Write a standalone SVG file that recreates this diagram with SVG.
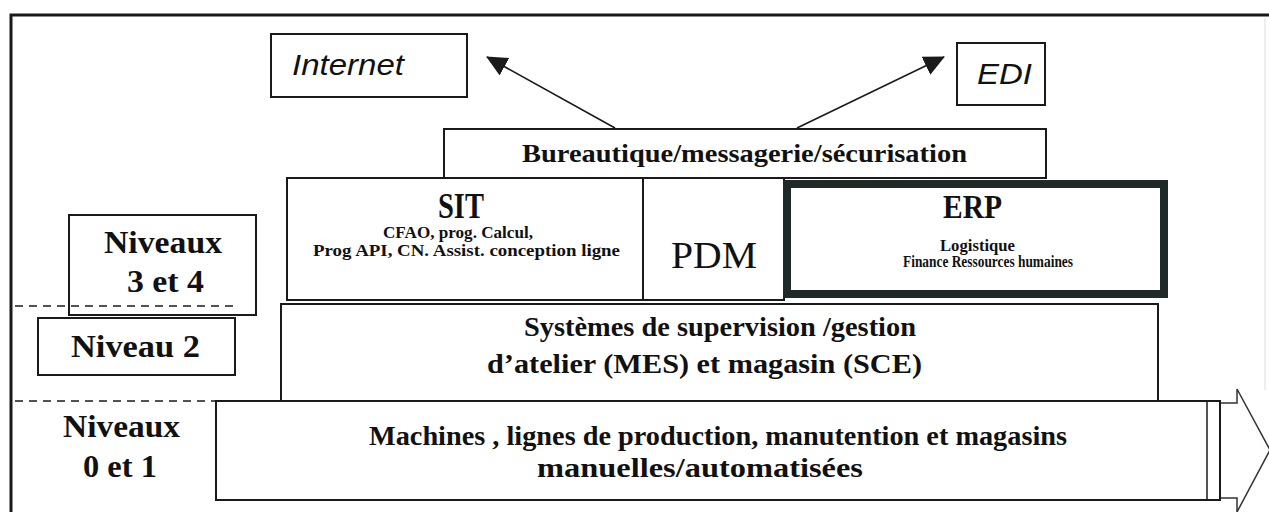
<svg xmlns="http://www.w3.org/2000/svg" width="1269" height="512" viewBox="0 0 1269 512">
<defs>
<style>
.box{fill:#fff;stroke:#1a1a1a;stroke-width:2}
.thick{fill:#fff;stroke:#1f2a28;stroke-width:8}
.frame{fill:none;stroke:#1a1a1a;stroke-width:3}
.dash{fill:none;stroke:#1a1a1a;stroke-width:1.5;stroke-dasharray:8,6}
.conn{fill:none;stroke:#1a1a1a;stroke-width:1.6}
.ital{font-family:"Liberation Sans",Arial,sans-serif;font-style:italic;fill:#111}
.sb{font-family:"Liberation Serif","Times New Roman",serif;font-weight:bold;fill:#111}
.sr{font-family:"Liberation Serif","Times New Roman",serif;fill:#111}
.mid{text-anchor:middle}
</style>
<marker id="ah" markerUnits="userSpaceOnUse" markerWidth="22" markerHeight="20" refX="20" refY="10" orient="auto">
<path d="M0,0 L21,10 L0,20 z" fill="#1a1a1a"/>
</marker>
</defs>
<rect x="0" y="0" width="1269" height="512" fill="#fff"/>
<path class="frame" d="M11,512 L11,15 L1269,15"/>
<line x1="1265" y1="18" x2="1265" y2="390" stroke="#ddd" stroke-width="1"/>

<g id="connectors">
<line class="conn" x1="615" y1="128" x2="487" y2="57" marker-end="url(#ah)"/>
<line class="conn" x1="797" y1="128" x2="944" y2="57" marker-end="url(#ah)"/>
</g>

<g id="internet">
<rect class="box" x="271" y="34" width="196" height="63"/>
<text class="ital" x="292" y="75" font-size="30" textLength="112" lengthAdjust="spacingAndGlyphs">Internet</text>
</g>
<g id="edi">
<rect class="box" x="957" y="43" width="88" height="62"/>
<text class="ital" x="977" y="84" font-size="30" textLength="55" lengthAdjust="spacingAndGlyphs">EDI</text>
</g>
<g id="bureautique">
<rect class="box" x="444" y="129" width="602" height="49"/>
<text class="sb" x="522" y="162" font-size="26" textLength="445" lengthAdjust="spacingAndGlyphs">Bureautique/messagerie/sécurisation</text>
</g>
<g id="sit">
<rect class="box" x="287" y="178" width="356" height="122"/>
<text class="sb" x="438" y="218" font-size="35" textLength="46" lengthAdjust="spacingAndGlyphs">SIT</text>
<text class="sb" x="383" y="238" font-size="17" textLength="150" lengthAdjust="spacingAndGlyphs">CFAO, prog. Calcul,</text>
<text class="sb" x="313" y="256" font-size="17" textLength="307" lengthAdjust="spacingAndGlyphs">Prog API, CN. Assist. conception ligne</text>
</g>
<g id="pdm">
<rect class="box" x="643" y="178" width="141" height="122"/>
<text class="sr" x="671" y="268" font-size="37" textLength="86" lengthAdjust="spacingAndGlyphs">PDM</text>
</g>
<g id="erp">
<rect class="thick" x="787" y="184" width="377" height="110"/>
<text class="sb" x="943" y="218" font-size="34" textLength="59" lengthAdjust="spacingAndGlyphs">ERP</text>
<text class="sb" x="940" y="251" font-size="16" textLength="75" lengthAdjust="spacingAndGlyphs">Logistique</text>
<text class="sb" x="903" y="267" font-size="16" textLength="170" lengthAdjust="spacingAndGlyphs">Finance Ressources humaines</text>
</g>
<g id="niveaux34">
<rect class="box" x="69" y="215" width="187" height="100"/>
<text class="sb" x="104" y="253" font-size="31" textLength="118" lengthAdjust="spacingAndGlyphs">Niveaux</text>
<text class="sb" x="127" y="292" font-size="31" textLength="77" lengthAdjust="spacingAndGlyphs">3 et 4</text>
</g>
<line class="dash" x1="15" y1="306" x2="233" y2="306"/>
<g id="niveau2">
<rect class="box" x="38" y="318" width="197" height="57"/>
<text class="sb" x="71" y="357" font-size="31" textLength="129" lengthAdjust="spacingAndGlyphs">Niveau 2</text>
</g>
<g id="mes">
<rect class="box" x="281" y="304" width="877" height="97"/>
<text class="sb" x="524" y="336" font-size="27" textLength="392" lengthAdjust="spacingAndGlyphs">Systèmes de supervision /gestion</text>
<text class="sb" x="487" y="373" font-size="27" textLength="435" lengthAdjust="spacingAndGlyphs">d’atelier (MES) et magasin (SCE)</text>
</g>
<line class="dash" x1="15" y1="401" x2="216" y2="401"/>
<g id="niveaux01">
<text class="sb" x="63" y="437" font-size="31" textLength="117" lengthAdjust="spacingAndGlyphs">Niveaux</text>
<text class="sb" x="83" y="477" font-size="31" textLength="74" lengthAdjust="spacingAndGlyphs">0 et 1</text>
</g>
<g id="machines">
<path d="M1220,403 L1237,403 L1237,389 L1270,450 L1237,512 L1237,498 L1220,498" fill="#fff" stroke="#333" stroke-width="1.5"/>
<rect class="box" x="216" y="401" width="1004" height="99"/>
<line x1="1207" y1="402" x2="1207" y2="499" stroke="#1a1a1a" stroke-width="1.5"/>
<text class="sb" x="369" y="445" font-size="27" textLength="698" lengthAdjust="spacingAndGlyphs">Machines , lignes de production, manutention et magasins</text>
<text class="sb" x="537" y="477" font-size="27" textLength="326" lengthAdjust="spacingAndGlyphs">manuelles/automatisées</text>
</g>
</svg>
